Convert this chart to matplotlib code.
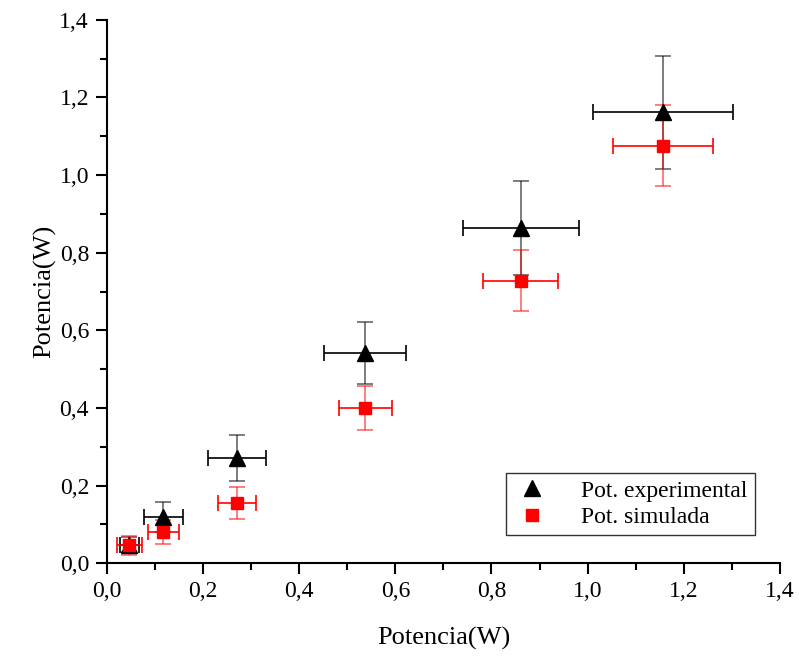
import numpy as np
import matplotlib.pyplot as plt
from matplotlib.ticker import MultipleLocator, FuncFormatter

# Data
exp_x = [0.046, 0.117, 0.270, 0.537, 0.861, 1.157]
exp_y = [0.048, 0.119, 0.271, 0.542, 0.864, 1.162]
exp_xerr = [0.020, 0.041, 0.060, 0.086, 0.121, 0.146]
exp_yerr = [0.020, 0.038, 0.058, 0.080, 0.121, 0.146]

sim_x = [0.046, 0.117, 0.270, 0.537, 0.861, 1.157]
sim_y = [0.046, 0.080, 0.155, 0.400, 0.728, 1.076]
sim_xerr = [0.026, 0.032, 0.040, 0.055, 0.078, 0.104]
sim_yerr = [0.025, 0.031, 0.040, 0.056, 0.079, 0.105]

plt.rcParams['font.family'] = ['Liberation Serif', 'DejaVu Serif']

fig = plt.figure(figsize=(7.99, 6.61), dpi=100)
ax = fig.add_axes([0.134, 0.148, 0.842, 0.822])

# vertical error bars are drawn lighter in the original
ax.errorbar(exp_x, exp_y, yerr=exp_yerr, fmt='none', ecolor='black', alpha=0.55,
            elinewidth=1.3, capsize=6, capthick=1.3)
ax.errorbar(sim_x, sim_y, yerr=sim_yerr, fmt='none', ecolor='red', alpha=0.55,
            elinewidth=1.3, capsize=6, capthick=1.3)
ax.errorbar(exp_x, exp_y, xerr=exp_xerr, fmt='none', ecolor='black',
            elinewidth=1.2, capsize=6, capthick=1.2)
ax.errorbar(sim_x, sim_y, xerr=sim_xerr, fmt='none', ecolor='red',
            elinewidth=1.2, capsize=6, capthick=1.2)

ax.plot(exp_x, exp_y, linestyle='none', marker='^', color='black', markersize=11,
        label='Pot. experimental', zorder=5)
ax.plot(sim_x, sim_y, linestyle='none', marker='s', color='red', markersize=8,
        label='Pot. simulada', zorder=6)

ax.set_xlim(0, 1.4)
ax.set_ylim(0, 1.4)
ax.xaxis.set_major_locator(MultipleLocator(0.2))
ax.xaxis.set_minor_locator(MultipleLocator(0.1))
ax.yaxis.set_major_locator(MultipleLocator(0.2))
ax.yaxis.set_minor_locator(MultipleLocator(0.1))
comma = FuncFormatter(lambda v, p: f"{v:.1f}".replace('.', ','))
ax.xaxis.set_major_formatter(comma)
ax.yaxis.set_major_formatter(comma)

ax.spines['top'].set_visible(False)
ax.spines['right'].set_visible(False)
for s in ['left', 'bottom']:
    ax.spines[s].set_linewidth(1.5)
ax.tick_params(which='major', direction='out', length=8, width=1.5, labelsize=17, pad=5)
ax.tick_params(which='minor', direction='out', length=5, width=1.5)

ax.set_xlabel('Potencia(W)', fontsize=19, labelpad=18)
ax.set_ylabel('Potencia(W)', fontsize=19, labelpad=2)

leg = ax.legend(loc='lower right', bbox_to_anchor=(0.963, 0.052), borderaxespad=0,
                fontsize=17, frameon=True, fancybox=False, edgecolor='black',
                handletextpad=1.3, borderpad=0.3, labelspacing=0.2, handlelength=1.6)
leg.get_frame().set_linewidth(1.0)

plt.savefig('out.png', dpi=100)
